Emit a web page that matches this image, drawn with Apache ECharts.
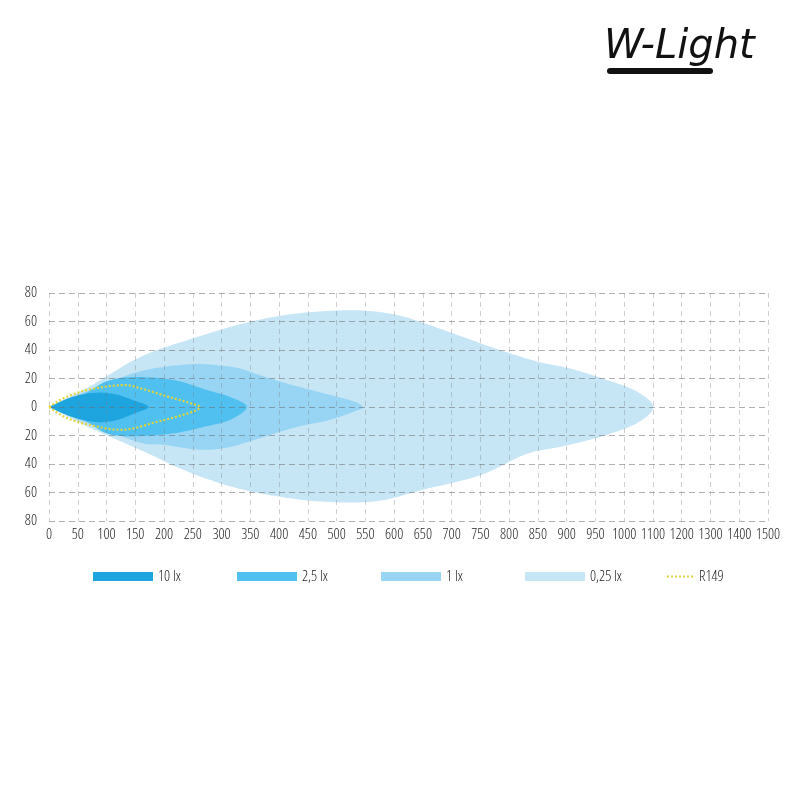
<!DOCTYPE html>
<html>
<head>
<meta charset="utf-8">
<script src="https://cdn.jsdelivr.net/npm/echarts@6/dist/echarts.min.js"></script>
<style>
html,body{margin:0;padding:0;background:#fff;}
#chart{width:802px;height:796px;}
</style>
</head>
<body>
<div id="chart"></div>
<script>
// Distance ticks (m) – the axis is linear per 50 m up to 1000, then per 100 m
const distTicks = [0,50,100,150,200,250,300,350,400,450,500,550,600,650,700,750,800,850,900,950,1000,1100,1200,1300,1400,1500];
const tickLabels = ['0','50','100','150','200','250','300','350','400','450','500','550','600','650','700','750','800','850','900','950','1000','1100','1200','1300','1400','1500'];
const yTicks = [-80,-60,-40,-20,0,20,40,60,80];

const legendNames = ['10 lx','2,5 lx','1 lx','0,25 lx'];
const refName = 'R149';

// isolux contours: [distance m, lateral m]
const lx025Upper = [[0,0],[71,14.5],[158,35],[245,47.5],[332,58],[402,64],[470,67],[540,67.8],[600,65],[651,59],[700,52],[784,40],[848,32],[906,27],[970,19],[1043,11],[1101,0]];
const lx025Lower = [[0,0],[71,-14.5],[158,-30],[245,-46],[332,-57.5],[436,-65],[520,-67],[580,-65.5],[651,-58],[749,-48],[830,-33],[888,-28],[958,-21],[1043,-11.5]];
const lx1Upper = [[0,0],[71,12],[158,25],[245,30],[300,29],[332,27],[373,21.5],[431,14.5],[489,8.5],[529,4],[546,0]];
const lx1Lower = [[0,0],[71,-12],[158,-25],[199,-26.5],[262,-30],[315,-28],[373,-21],[431,-14],[489,-9],[535,-2.5]];
const lx25Upper = [[0,0],[60,9],[100,18],[147,21],[216,19],[274,12],[315,7],[344,0]];
const lx25Lower = [[0,0],[60,-9],[100,-18.5],[147,-20.5],[216,-18.5],[274,-13.5],[315,-9]];
const lx10Upper = [[0,0],[40,7],[80,10],[115,9],[145,5],[173,0]];
const lx10Lower = [[0,0],[40,-7],[80,-10.5],[115,-9.5],[145,-5]];
const r149Upper = [[0,0],[30,7],[71,12.4],[129,15.4],[160,13],[205,7.5],[245,2.8],[262,0]];
const r149Lower = [[0,0],[30,-7.5],[71,-12.6],[129,-16],[187,-10.5],[245,-4]];

const colors = ['#1ea5e0','#4fc0ef','#98d4f3','#c6e6f6'];
const refColor = '#e2d43c';

function toIdx(d){
  for (let i=0;i<distTicks.length-1;i++){
    if (d<=distTicks[i+1]) return i + (d-distTicks[i])/(distTicks[i+1]-distTicks[i]);
  }
  return distTicks.length-1;
}
function closedLoop(upper, lower){
  return upper.concat(lower.slice().reverse()).map(p=>[toIdx(p[0]), p[1]]);
}
function spline(pts, steps){
  const out=[], n=pts.length;
  for(let i=0;i<n-1;i++){
    const p0=pts[i-1]||pts[i], p1=pts[i], p2=pts[i+1], p3=pts[i+2]||pts[i+1];
    const c1=[p1[0]+(p2[0]-p0[0])/6, p1[1]+(p2[1]-p0[1])/6];
    const c2=[p2[0]-(p3[0]-p1[0])/6, p2[1]-(p3[1]-p1[1])/6];
    for(let s=0;s<steps;s++){
      const t=s/steps, u=1-t;
      out.push([u*u*u*p1[0]+3*u*u*t*c1[0]+3*u*t*t*c2[0]+t*t*t*p2[0],
                u*u*u*p1[1]+3*u*u*t*c1[1]+3*u*t*t*c2[1]+t*t*t*p2[1]]);
    }
  }
  out.push(pts[n-1]);
  return out;
}
function shapeSeries(name, upper, lower, color, z, dotted){
  const data = closedLoop(upper, lower);
  return {
    type:'custom', name:name, z:z, silent:true, coordinateSystem:'cartesian2d',
    itemStyle:{color:color}, encode:{x:0,y:1}, data:data,
    renderItem:function(params, api){
      if (params.dataIndex!==0) return null;
      const pts = spline(data.map(p=>api.coord(p)), 12);
      if (dotted) return {type:'polyline', shape:{points:pts}, style:{stroke:color, fill:null, lineWidth:2.2, lineDash:[2,2]}};
      return {type:'polygon', shape:{points:pts}, style:{fill:color}};
    }
  };
}

const chart = echarts.init(document.getElementById('chart'));
const labelFont = {fontFamily:'"Open Sans"', fontStyle:'condensed', fontWeight:300, fontSize:15, color:'#1e1e1e'};
const option = {
  backgroundColor:'#fff', animation:false,
  grid:{left:49, right:34, top:293, bottom:275},
  xAxis:{
    type:'value', min:0, max:distTicks.length-1, interval:1, z:5,
    axisLine:{show:false}, axisTick:{show:false},
    axisLabel:Object.assign({formatter:v=>tickLabels[Math.round(v)], margin:6, showMaxLabel:true, showMinLabel:true}, labelFont),
    splitLine:{show:true, lineStyle:{color:'rgba(120,120,120,0.35)', type:[5,4], width:1}}
  },
  yAxis:{
    type:'value', min:yTicks[0], max:yTicks[yTicks.length-1], interval:20, z:5,
    axisLine:{show:false}, axisTick:{show:false},
    axisLabel:Object.assign({formatter:v=>String(Math.abs(v)), margin:12}, labelFont),
    splitLine:{show:true, lineStyle:{color:'rgba(110,110,110,0.55)', type:[6,4], width:1}}
  },
  legend: legendNames.map((n,i)=>({data:[n], left:93+144*i, top:569, padding:0, itemWidth:60, itemHeight:9, icon:'rect', selectedMode:false,
     textStyle:Object.assign({}, labelFont)})).concat([
    {data:[{name:refName, icon:'path://M0,0h2v2h-2z M4,0h2v2h-2z M8,0h2v2h-2z M12,0h2v2h-2z M16,0h2v2h-2z M20,0h2v2h-2z M24,0h2v2h-2z'}],
     left:667, top:569, padding:0, itemWidth:28, itemHeight:2, selectedMode:false,
     textStyle:Object.assign({}, labelFont)}]),
  graphic:[
    {type:'text', left:604, top:28, style:{text:'W-Light', font:'italic 40px "DejaVu Sans"', fill:'#111'}},
    {type:'rect', left:607, top:68, shape:{width:106, height:6, r:3}, style:{fill:'#111'}}
  ],
  series:[
    shapeSeries(legendNames[3], lx025Upper, lx025Lower, colors[3], 1, false),
    shapeSeries(legendNames[2], lx1Upper, lx1Lower, colors[2], 2, false),
    shapeSeries(legendNames[1], lx25Upper, lx25Lower, colors[1], 3, false),
    shapeSeries(legendNames[0], lx10Upper, lx10Lower, colors[0], 4, false),
    shapeSeries(refName, r149Upper, r149Lower, refColor, 6, true)
  ]
};
chart.setOption(option);
</script>
</body>
</html>
